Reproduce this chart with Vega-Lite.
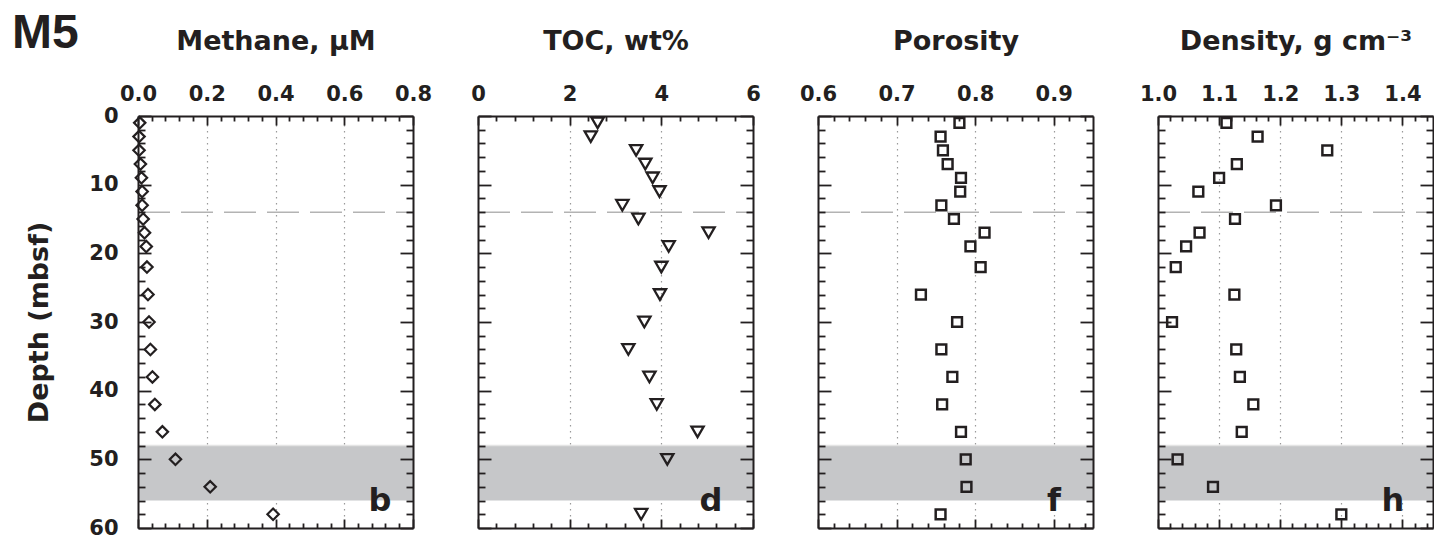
{
 "$schema": "https://vega.github.io/schema/vega-lite/v6.json",
 "padding": {"left": 12, "top": 10, "right": 0, "bottom": 0},
 "background": "white",
 "title": {"text": "M5", "anchor": "start", "frame": "group", "fontSize": 48, "font": "Liberation Sans", "fontWeight": "bold", "color": "#231f20", "offset": -69, "baseline": "alphabetic", "dx": -126},
 "datasets": {
  "main": [
   {"depth": 1, "methane": 0.005, "toc": 2.61, "porosity": 0.780, "density": 1.112},
   {"depth": 3, "methane": 0.003, "toc": 2.46, "porosity": 0.756, "density": 1.163},
   {"depth": 5, "methane": 0.003, "toc": 3.45, "porosity": 0.759, "density": 1.277},
   {"depth": 7, "methane": 0.007, "toc": 3.65, "porosity": 0.765, "density": 1.129},
   {"depth": 9, "methane": 0.010, "toc": 3.81, "porosity": 0.782, "density": 1.100},
   {"depth": 11, "methane": 0.012, "toc": 3.96, "porosity": 0.781, "density": 1.066},
   {"depth": 13, "methane": 0.012, "toc": 3.15, "porosity": 0.757, "density": 1.193},
   {"depth": 15, "methane": 0.015, "toc": 3.50, "porosity": 0.773, "density": 1.126},
   {"depth": 17, "methane": 0.019, "toc": 5.03, "porosity": 0.812, "density": 1.068},
   {"depth": 19, "methane": 0.024, "toc": 4.16, "porosity": 0.794, "density": 1.046},
   {"depth": 22, "methane": 0.026, "toc": 4.00, "porosity": 0.807, "density": 1.029},
   {"depth": 26, "methane": 0.029, "toc": 3.97, "porosity": 0.731, "density": 1.125},
   {"depth": 30, "methane": 0.032, "toc": 3.63, "porosity": 0.777, "density": 1.023},
   {"depth": 34, "methane": 0.036, "toc": 3.28, "porosity": 0.757, "density": 1.128},
   {"depth": 38, "methane": 0.042, "toc": 3.74, "porosity": 0.771, "density": 1.134},
   {"depth": 42, "methane": 0.049, "toc": 3.90, "porosity": 0.758, "density": 1.156},
   {"depth": 46, "methane": 0.071, "toc": 4.79, "porosity": 0.782, "density": 1.137},
   {"depth": 50, "methane": 0.109, "toc": 4.13, "porosity": 0.788, "density": 1.032},
   {"depth": 54, "methane": 0.210, "toc": null, "porosity": 0.789, "density": 1.090},
   {"depth": 58, "methane": 0.393, "toc": 3.56, "porosity": 0.756, "density": 1.300}
  ]
 },
 "spacing": 65,
 "bounds": "flush",
 "hconcat": [
  {
   "width": 275, "height": 412,
   "resolve": {"axis": {"x": "independent", "y": "independent"}},
   "layer": [
    {"data": {"values": [{}]},
     "mark": {"type": "rect", "color": "#c6c7c9"},
     "encoding": {
      "x": {"datum": 0, "type": "quantitative", "scale": {"domain": [0, 0.8], "nice": false}, "axis": null},
      "x2": {"datum": 0.8},
      "y": {"datum": 48, "type": "quantitative", "scale": {"domain": [0, 60], "reverse": true, "nice": false, "zero": false},
            "axis": {"orient": "left", "values": [0,2,4,6,8,10,12,14,16,18,20,22,24,26,28,30,32,34,36,38,40,42,44,46,48,50,52,54,56,58,60],
                     "tickSize": {"condition": {"test": "datum.value % 10 === 0", "value": -13}, "value": -7},
                     "labelExpr": "datum.value % 10 === 0 ? datum.label : ''", "labelPadding": 33,
                     "title": "Depth (mbsf)", "titlePadding": 35, "zindex": 1}},
      "y2": {"datum": 56}}},
    {"data": {"values": [{}]},
     "mark": {"type": "rule", "color": "#e4e4e4", "strokeWidth": 1.5},
     "encoding": {
      "y": {"datum": 48, "type": "quantitative", "scale": {"domain": [0, 60], "reverse": true, "nice": false, "zero": false}, "axis": null},
      "x": {"datum": 0, "type": "quantitative", "scale": {"domain": [0, 0.8], "nice": false},
            "axis": {"orient": "bottom", "values": [0.2, 0.4, 0.6], "grid": true, "gridDash": [1.5, 4.5], "gridColor": "#9a9a9a", "gridWidth": 1.2, "ticks": false, "labels": false, "domain": false, "title": null, "zindex": 0}},
      "x2": {"datum": 0.8}}},
    {"data": {"values": [{}]},
     "mark": {"type": "rule", "color": "#b3b3b3", "strokeWidth": 1.5, "strokeDash": [32, 11]},
     "encoding": {
      "x": {"datum": 0, "type": "quantitative", "scale": {"domain": [0, 0.8], "nice": false}, "axis": null},
      "x2": {"datum": 0.8},
      "y": {"datum": 14, "type": "quantitative", "scale": {"domain": [0, 60], "reverse": true, "nice": false, "zero": false},
            "axis": {"orient": "right", "values": [0,2,4,6,8,10,12,14,16,18,20,22,24,26,28,30,32,34,36,38,40,42,44,46,48,50,52,54,56,58,60],
                     "tickSize": {"condition": {"test": "datum.value % 10 === 0", "value": -13}, "value": -7},
                     "labels": false, "title": null, "zindex": 1}}}},
    {"data": {"name": "main"},
     "mark": {"type": "point", "shape": "diamond", "filled": false, "color": "#231f20", "strokeWidth": 2.2, "size": 130, "opacity": 1},
     "encoding": {
      "x": {"field": "methane", "type": "quantitative", "scale": {"domain": [0, 0.8], "nice": false},
            "axis": {"orient": "top", "values": [0,0.04,0.08,0.12,0.16,0.2,0.24,0.28,0.32,0.36,0.4,0.44,0.48,0.52,0.56,0.6,0.64,0.68,0.72,0.76,0.8],
                     "tickSize": {"condition": {"test": "abs(datum.value*5-round(datum.value*5))<0.001", "value": -9}, "value": -5},
                     "labelExpr": "abs(datum.value*5-round(datum.value*5))<0.001 ? format(datum.value,'.1f') : ''",
                     "labelPadding": 25, "labelBaseline": "alphabetic",
                     "title": "Methane, μM", "titlePadding": 30, "titleBaseline": "alphabetic", "zindex": 1}},
      "y": {"field": "depth", "type": "quantitative", "scale": {"domain": [0, 60], "reverse": true, "nice": false, "zero": false}, "axis": null}}},
    {"data": {"values": [{}]},
     "mark": {"type": "text", "text": "b", "font": "DejaVu Sans", "fontWeight": "bold", "fontSize": 32, "align": "center", "baseline": "alphabetic", "dx": -33, "color": "#231f20"},
     "encoding": {
      "x": {"datum": 0.8, "type": "quantitative", "scale": {"domain": [0, 0.8], "nice": false},
            "axis": {"orient": "bottom", "values": [0,0.04,0.08,0.12,0.16,0.2,0.24,0.28,0.32,0.36,0.4,0.44,0.48,0.52,0.56,0.6,0.64,0.68,0.72,0.76,0.8],
                     "tickSize": {"condition": {"test": "abs(datum.value*5-round(datum.value*5))<0.001", "value": -9}, "value": -5},
                     "labels": false, "title": null, "zindex": 1}},
      "y": {"datum": 57.5, "type": "quantitative", "scale": {"domain": [0, 60], "reverse": true, "nice": false, "zero": false}, "axis": null}}}
   ]
  },
  {
   "width": 275, "height": 412,
   "resolve": {"axis": {"x": "independent", "y": "independent"}},
   "layer": [
    {"data": {"values": [{}]},
     "mark": {"type": "rect", "color": "#c6c7c9"},
     "encoding": {
      "x": {"datum": 0, "type": "quantitative", "scale": {"domain": [0, 6], "nice": false}, "axis": null},
      "x2": {"datum": 6},
      "y": {"datum": 48, "type": "quantitative", "scale": {"domain": [0, 60], "reverse": true, "nice": false, "zero": false},
            "axis": {"orient": "left", "values": [0,2,4,6,8,10,12,14,16,18,20,22,24,26,28,30,32,34,36,38,40,42,44,46,48,50,52,54,56,58,60],
                     "tickSize": {"condition": {"test": "datum.value % 10 === 0", "value": -13}, "value": -7},
                     "labels": false, "title": null, "zindex": 1}},
      "y2": {"datum": 56}}},
    {"data": {"values": [{}]},
     "mark": {"type": "rule", "color": "#e4e4e4", "strokeWidth": 1.5},
     "encoding": {
      "y": {"datum": 48, "type": "quantitative", "scale": {"domain": [0, 60], "reverse": true, "nice": false, "zero": false}, "axis": null},
      "x": {"datum": 0, "type": "quantitative", "scale": {"domain": [0, 6], "nice": false},
            "axis": {"orient": "bottom", "values": [2, 4], "grid": true, "gridDash": [1.5, 4.5], "gridColor": "#9a9a9a", "gridWidth": 1.2, "ticks": false, "labels": false, "domain": false, "title": null, "zindex": 0}},
      "x2": {"datum": 6}}},
    {"data": {"values": [{}]},
     "mark": {"type": "rule", "color": "#b3b3b3", "strokeWidth": 1.5, "strokeDash": [32, 11]},
     "encoding": {
      "x": {"datum": 0, "type": "quantitative", "scale": {"domain": [0, 6], "nice": false}, "axis": null},
      "x2": {"datum": 6},
      "y": {"datum": 14, "type": "quantitative", "scale": {"domain": [0, 60], "reverse": true, "nice": false, "zero": false},
            "axis": {"orient": "right", "values": [0,2,4,6,8,10,12,14,16,18,20,22,24,26,28,30,32,34,36,38,40,42,44,46,48,50,52,54,56,58,60],
                     "tickSize": {"condition": {"test": "datum.value % 10 === 0", "value": -13}, "value": -7},
                     "labels": false, "title": null, "zindex": 1}}}},
    {"data": {"name": "main"},
     "mark": {"type": "point", "shape": "triangle-down", "filled": false, "color": "#231f20", "strokeWidth": 2.3, "size": 150, "opacity": 1},
     "encoding": {
      "x": {"field": "toc", "type": "quantitative", "scale": {"domain": [0, 6], "nice": false},
            "axis": {"orient": "top", "values": [0,0.4,0.8,1.2,1.6,2,2.4,2.8,3.2,3.6,4,4.4,4.8,5.2,5.6,6],
                     "tickSize": {"condition": {"test": "abs(datum.value/2-round(datum.value/2))<0.001", "value": -9}, "value": -5},
                     "labelExpr": "abs(datum.value/2-round(datum.value/2))<0.001 ? format(datum.value,'d') : ''",
                     "labelPadding": 25, "labelBaseline": "alphabetic",
                     "title": "TOC, wt%", "titlePadding": 30, "titleBaseline": "alphabetic", "zindex": 1}},
      "y": {"field": "depth", "type": "quantitative", "scale": {"domain": [0, 60], "reverse": true, "nice": false, "zero": false}, "axis": null}}},
    {"data": {"values": [{}]},
     "mark": {"type": "text", "text": "d", "font": "DejaVu Sans", "fontWeight": "bold", "fontSize": 32, "align": "center", "baseline": "alphabetic", "dx": -42, "color": "#231f20"},
     "encoding": {
      "x": {"datum": 6, "type": "quantitative", "scale": {"domain": [0, 6], "nice": false},
            "axis": {"orient": "bottom", "values": [0,0.4,0.8,1.2,1.6,2,2.4,2.8,3.2,3.6,4,4.4,4.8,5.2,5.6,6],
                     "tickSize": {"condition": {"test": "abs(datum.value/2-round(datum.value/2))<0.001", "value": -9}, "value": -5},
                     "labels": false, "title": null, "zindex": 1}},
      "y": {"datum": 57.5, "type": "quantitative", "scale": {"domain": [0, 60], "reverse": true, "nice": false, "zero": false}, "axis": null}}}
   ]
  },
  {
   "width": 275, "height": 412,
   "resolve": {"axis": {"x": "independent", "y": "independent"}},
   "layer": [
    {"data": {"values": [{}]},
     "mark": {"type": "rect", "color": "#c6c7c9"},
     "encoding": {
      "x": {"datum": 0.6, "type": "quantitative", "scale": {"domain": [0.6, 0.95], "nice": false, "zero": false}, "axis": null},
      "x2": {"datum": 0.95},
      "y": {"datum": 48, "type": "quantitative", "scale": {"domain": [0, 60], "reverse": true, "nice": false, "zero": false},
            "axis": {"orient": "left", "values": [0,2,4,6,8,10,12,14,16,18,20,22,24,26,28,30,32,34,36,38,40,42,44,46,48,50,52,54,56,58,60],
                     "tickSize": {"condition": {"test": "datum.value % 10 === 0", "value": -13}, "value": -7},
                     "labels": false, "title": null, "zindex": 1}},
      "y2": {"datum": 56}}},
    {"data": {"values": [{}]},
     "mark": {"type": "rule", "color": "#e4e4e4", "strokeWidth": 1.5},
     "encoding": {
      "y": {"datum": 48, "type": "quantitative", "scale": {"domain": [0, 60], "reverse": true, "nice": false, "zero": false}, "axis": null},
      "x": {"datum": 0.6, "type": "quantitative", "scale": {"domain": [0.6, 0.95], "nice": false, "zero": false},
            "axis": {"orient": "bottom", "values": [0.7, 0.8, 0.9], "grid": true, "gridDash": [1.5, 4.5], "gridColor": "#9a9a9a", "gridWidth": 1.2, "ticks": false, "labels": false, "domain": false, "title": null, "zindex": 0}},
      "x2": {"datum": 0.95}}},
    {"data": {"values": [{}]},
     "mark": {"type": "rule", "color": "#b3b3b3", "strokeWidth": 1.5, "strokeDash": [32, 11]},
     "encoding": {
      "x": {"datum": 0.6, "type": "quantitative", "scale": {"domain": [0.6, 0.95], "nice": false, "zero": false}, "axis": null},
      "x2": {"datum": 0.95},
      "y": {"datum": 14, "type": "quantitative", "scale": {"domain": [0, 60], "reverse": true, "nice": false, "zero": false},
            "axis": {"orient": "right", "values": [0,2,4,6,8,10,12,14,16,18,20,22,24,26,28,30,32,34,36,38,40,42,44,46,48,50,52,54,56,58,60],
                     "tickSize": {"condition": {"test": "datum.value % 10 === 0", "value": -13}, "value": -7},
                     "labels": false, "title": null, "zindex": 1}}}},
    {"data": {"name": "main"},
     "mark": {"type": "point", "shape": "square", "filled": false, "color": "#231f20", "strokeWidth": 2.5, "size": 95, "opacity": 1},
     "encoding": {
      "x": {"field": "porosity", "type": "quantitative", "scale": {"domain": [0.6, 0.95], "nice": false, "zero": false},
            "axis": {"orient": "top", "values": [0.6,0.62,0.64,0.66,0.68,0.7,0.72,0.74,0.76,0.78,0.8,0.82,0.84,0.86,0.88,0.9,0.92,0.94],
                     "tickSize": {"condition": {"test": "abs(datum.value*10-round(datum.value*10))<0.001", "value": -9}, "value": -5},
                     "labelExpr": "abs(datum.value*10-round(datum.value*10))<0.001 ? format(datum.value,'.1f') : ''",
                     "labelPadding": 25, "labelBaseline": "alphabetic",
                     "title": "Porosity", "titlePadding": 30, "titleBaseline": "alphabetic", "zindex": 1}},
      "y": {"field": "depth", "type": "quantitative", "scale": {"domain": [0, 60], "reverse": true, "nice": false, "zero": false}, "axis": null}}},
    {"data": {"values": [{}]},
     "mark": {"type": "text", "text": "f", "font": "DejaVu Sans", "fontWeight": "bold", "fontSize": 32, "align": "center", "baseline": "alphabetic", "dx": -39, "color": "#231f20"},
     "encoding": {
      "x": {"datum": 0.95, "type": "quantitative", "scale": {"domain": [0.6, 0.95], "nice": false, "zero": false},
            "axis": {"orient": "bottom", "values": [0.6,0.62,0.64,0.66,0.68,0.7,0.72,0.74,0.76,0.78,0.8,0.82,0.84,0.86,0.88,0.9,0.92,0.94],
                     "tickSize": {"condition": {"test": "abs(datum.value*10-round(datum.value*10))<0.001", "value": -9}, "value": -5},
                     "labels": false, "title": null, "zindex": 1}},
      "y": {"datum": 57.5, "type": "quantitative", "scale": {"domain": [0, 60], "reverse": true, "nice": false, "zero": false}, "axis": null}}}
   ]
  },
  {
   "width": 275, "height": 412,
   "resolve": {"axis": {"x": "independent", "y": "independent"}},
   "layer": [
    {"data": {"values": [{}]},
     "mark": {"type": "rect", "color": "#c6c7c9"},
     "encoding": {
      "x": {"datum": 1.0, "type": "quantitative", "scale": {"domain": [1.0, 1.45], "nice": false, "zero": false}, "axis": null},
      "x2": {"datum": 1.45},
      "y": {"datum": 48, "type": "quantitative", "scale": {"domain": [0, 60], "reverse": true, "nice": false, "zero": false},
            "axis": {"orient": "left", "values": [0,2,4,6,8,10,12,14,16,18,20,22,24,26,28,30,32,34,36,38,40,42,44,46,48,50,52,54,56,58,60],
                     "tickSize": {"condition": {"test": "datum.value % 10 === 0", "value": -13}, "value": -7},
                     "labels": false, "title": null, "zindex": 1}},
      "y2": {"datum": 56}}},
    {"data": {"values": [{}]},
     "mark": {"type": "rule", "color": "#e4e4e4", "strokeWidth": 1.5},
     "encoding": {
      "y": {"datum": 48, "type": "quantitative", "scale": {"domain": [0, 60], "reverse": true, "nice": false, "zero": false}, "axis": null},
      "x": {"datum": 1.0, "type": "quantitative", "scale": {"domain": [1.0, 1.45], "nice": false, "zero": false},
            "axis": {"orient": "bottom", "values": [1.1, 1.2, 1.3, 1.4], "grid": true, "gridDash": [1.5, 4.5], "gridColor": "#9a9a9a", "gridWidth": 1.2, "ticks": false, "labels": false, "domain": false, "title": null, "zindex": 0}},
      "x2": {"datum": 1.45}}},
    {"data": {"values": [{}]},
     "mark": {"type": "rule", "color": "#b3b3b3", "strokeWidth": 1.5, "strokeDash": [32, 11]},
     "encoding": {
      "x": {"datum": 1.0, "type": "quantitative", "scale": {"domain": [1.0, 1.45], "nice": false, "zero": false}, "axis": null},
      "x2": {"datum": 1.45},
      "y": {"datum": 14, "type": "quantitative", "scale": {"domain": [0, 60], "reverse": true, "nice": false, "zero": false},
            "axis": {"orient": "right", "values": [0,2,4,6,8,10,12,14,16,18,20,22,24,26,28,30,32,34,36,38,40,42,44,46,48,50,52,54,56,58,60],
                     "tickSize": {"condition": {"test": "datum.value % 10 === 0", "value": -13}, "value": -7},
                     "labels": false, "title": null, "zindex": 1}}}},
    {"data": {"name": "main"},
     "mark": {"type": "point", "shape": "square", "filled": false, "color": "#231f20", "strokeWidth": 2.5, "size": 95, "opacity": 1},
     "encoding": {
      "x": {"field": "density", "type": "quantitative", "scale": {"domain": [1.0, 1.45], "nice": false, "zero": false},
            "axis": {"orient": "top", "values": [1.0,1.02,1.04,1.06,1.08,1.1,1.12,1.14,1.16,1.18,1.2,1.22,1.24,1.26,1.28,1.3,1.32,1.34,1.36,1.38,1.4,1.42,1.44],
                     "tickSize": {"condition": {"test": "abs(datum.value*10-round(datum.value*10))<0.001", "value": -9}, "value": -5},
                     "labelExpr": "abs(datum.value*10-round(datum.value*10))<0.001 ? format(datum.value,'.1f') : ''",
                     "labelPadding": 25, "labelBaseline": "alphabetic",
                     "title": "Density, g cm⁻³", "titlePadding": 30, "titleBaseline": "alphabetic", "zindex": 1}},
      "y": {"field": "depth", "type": "quantitative", "scale": {"domain": [0, 60], "reverse": true, "nice": false, "zero": false}, "axis": null}}},
    {"data": {"values": [{}]},
     "mark": {"type": "text", "text": "h", "font": "DejaVu Sans", "fontWeight": "bold", "fontSize": 32, "align": "center", "baseline": "alphabetic", "dx": -40, "color": "#231f20"},
     "encoding": {
      "x": {"datum": 1.45, "type": "quantitative", "scale": {"domain": [1.0, 1.45], "nice": false, "zero": false},
            "axis": {"orient": "bottom", "values": [1.0,1.02,1.04,1.06,1.08,1.1,1.12,1.14,1.16,1.18,1.2,1.22,1.24,1.26,1.28,1.3,1.32,1.34,1.36,1.38,1.4,1.42,1.44],
                     "tickSize": {"condition": {"test": "abs(datum.value*10-round(datum.value*10))<0.001", "value": -9}, "value": -5},
                     "labels": false, "title": null, "zindex": 1}},
      "y": {"datum": 57.5, "type": "quantitative", "scale": {"domain": [0, 60], "reverse": true, "nice": false, "zero": false}, "axis": null}}}
   ]
  }
 ],
 "config": {
  "view": {"stroke": null},
  "font": "DejaVu Sans",
  "axis": {"domainColor": "#231f20", "domainWidth": 2, "tickColor": "#231f20", "tickWidth": 1.8,
           "labelFont": "DejaVu Sans", "labelFontWeight": "bold", "labelFontSize": 21, "labelColor": "#231f20",
           "titleFont": "DejaVu Sans", "titleFontWeight": "bold", "titleFontSize": 27, "titleColor": "#231f20",
           "grid": false, "labelFlush": false, "labelOverlap": false}
 }
}
